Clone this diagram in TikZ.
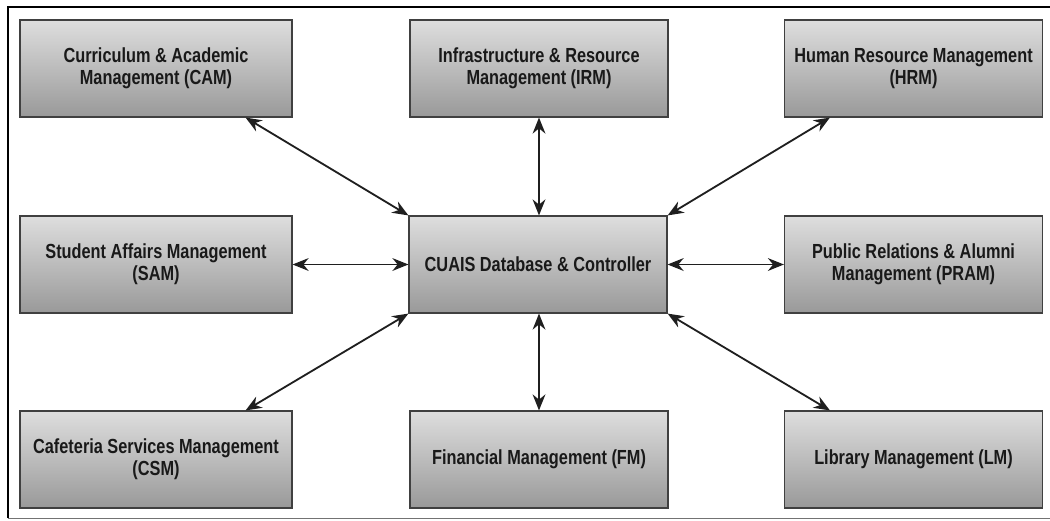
\documentclass[tikz,border=0pt]{standalone}
\usepackage{fontspec}
\newfontfamily\boxfont[FakeStretch=0.8]{Liberation Sans}
\usetikzlibrary{arrows.meta, positioning}
\tikzset{
    module/.style={rectangle, draw=black!75, line width=0.8pt, top color=black!13, bottom color=black!40, minimum height=2.425cm, align=center, text=black!90, font=\boxfont\bfseries\fontsize{14.5}{15.5}\selectfont},
    wide/.style={module, minimum width=6.8cm},
    narrow/.style={module, minimum width=6.45cm},
    link/.style={{Stealth[length=4mm, width=3.2mm]}-{Stealth[length=4mm, width=3.2mm]}, line width=1.3pt, draw=black!88},
}
\begin{document}
\begin{tikzpicture}[x=0.025cm, y=-0.025cm]
    \useasboundingbox (0,0) rectangle (1050,520);
    % frame
    \draw[line width=1.8pt] (8,518) -- (8,7) -- (1050,7);
    \draw[black!55, line width=0.7pt] (8,518) -- (1050,518);
    % modules
    \node[wide] (cam) at (156,68.5) {Curriculum \& Academic\\Management (CAM)};
    \node[narrow] (irm) at (539,68.5) {Infrastructure \& Resource\\Management (IRM)};
    \node[narrow] (hrm) at (913.5,68.5) {Human Resource Management\\(HRM)};
    \node[wide] (sam) at (156,264.5) {Student Affairs Management\\(SAM)};
    \node[narrow] (db) at (538,264.5) {CUAIS Database \& Controller};
    \node[narrow] (pram) at (913.5,264.5) {Public Relations \& Alumni\\Management (PRAM)};
    \node[wide] (csm) at (156,459.5) {Cafeteria Services Management\\(CSM)};
    \node[narrow] (fm) at (539,459.5) {Financial Management (FM)};
    \node[narrow] (lm) at (913.5,459.5) {Library Management (LM)};
    % links
    \draw[link] ([xshift=-1.175cm]cam.south east) -- (db.north west);
    \draw[link] (irm.south) -- (db.north -| irm.south);
    \draw[link] ([xshift=1.15cm]hrm.south west) -- (db.north east);
    \draw[link] (sam.east) -- (db.west);
    \draw[link] (pram.west) -- (db.east);
    \draw[link] ([xshift=-1.175cm]csm.north east) -- (db.south west);
    \draw[link] (fm.north) -- (db.south -| fm.north);
    \draw[link] ([xshift=1.15cm]lm.north west) -- (db.south east);
\end{tikzpicture}
\end{document}
